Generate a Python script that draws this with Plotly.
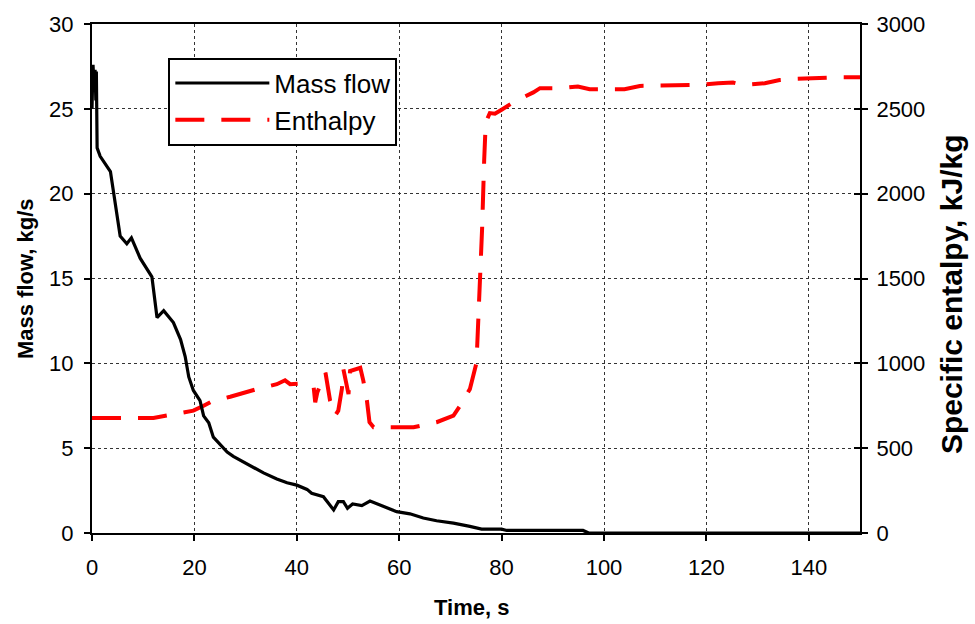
import plotly.graph_objects as go

# ---- data ----
time_mass = [0, 0.2, 0.45, 0.6, 0.75, 0.85, 1.0, 1.6, 3.6, 5.5, 6.8, 7.7, 9.4, 11.7, 12.7,
             14.0, 15.9, 17.3, 18.2, 18.9, 19.8, 21.1, 21.8, 22.8, 23.7, 26.4, 27.6,
             29.6, 31.5, 33.5, 36.1, 38.1, 40.0, 42.0, 42.9, 45.2, 47.2, 48.1, 49.1,
             49.9, 50.9, 52.7, 54.3, 56.3, 59.5, 62.1, 64.7, 67.3, 70.6, 73.8, 76.1,
             80.0, 81.0, 95.9, 97.0, 150]
mass_flow = [25.0, 27.6, 26.0, 27.3, 25.5, 27.2, 22.7, 22.2, 21.3, 17.5, 17.05, 17.4, 16.2,
             15.1, 12.7, 13.1, 12.4, 11.4, 10.4, 9.2, 8.4, 7.8, 6.9, 6.5, 5.65, 4.77, 4.52,
             4.19, 3.86, 3.54, 3.18, 2.96, 2.82, 2.57, 2.34, 2.14, 1.36, 1.85, 1.85, 1.46,
             1.71, 1.61, 1.88, 1.65, 1.26, 1.13, 0.88, 0.72, 0.58, 0.39, 0.23, 0.23, 0.15,
             0.15, 0.0, 0.0]

time_enth = [0, 12, 14.6, 17.9, 19.8, 21.8, 23.4, 27.0, 29.6, 32.2, 36.1, 37.7, 38.7, 41.3,
             43.3, 43.6, 44.0, 45.6, 46.5, 47.5, 48.1, 48.8, 49.1, 50.1, 50.4, 52.0, 52.4,
             53.0, 53.7, 54.2, 55.0, 58.2, 62.8, 67.3, 70.6, 71.9, 73.8, 75.1, 75.5, 75.9,
             76.2, 76.6, 76.9, 77.7, 78.7, 80.0, 82.6, 86.2, 87.5, 91.7, 94.9, 97.2, 104,
             107, 118.7, 122.3, 125.2, 127.1, 131.4, 134.3, 136.9, 146.0, 150]
enthalpy = [678, 678, 692, 711, 721, 750, 776, 803, 828, 848, 877, 900, 877, 881,
            857, 770, 828, 945, 780, 692, 721, 848, 965, 819, 955, 974, 974,
            897, 780, 653, 623, 623, 623, 653, 692, 750, 848, 1003, 1250, 1550,
            1800, 2200, 2420, 2475, 2471, 2495, 2544, 2597, 2622, 2622, 2632, 2616, 2616,
            2635, 2641, 2651, 2655, 2641, 2651, 2670, 2676, 2686, 2686]

x_ticks = [0, 20, 40, 60, 80, 100, 120, 140]
mass_ticks = [0, 5, 10, 15, 20, 25, 30]
enth_ticks = [0, 500, 1000, 1500, 2000, 2500, 3000]

FONT = "Liberation Sans, Arial, sans-serif"

fig = go.Figure()
fig.add_trace(go.Scatter(
    x=time_enth, y=enthalpy, name="Enthalpy", mode="lines", yaxis="y",
    line=dict(color="#ff0000", width=4, dash="29px,17px"),
    legendrank=2, legendgroup="b"))
fig.add_trace(go.Scatter(
    x=time_mass, y=mass_flow, name="Mass flow", mode="lines", yaxis="y2",
    line=dict(color="#000000", width=3.2),
    legendrank=1, legendgroup="a"))

tick_common = dict(ticklen=6, tickwidth=2, tickcolor="black",
                   tickfont=dict(family=FONT, size=22, color="black"),
                   zeroline=False)

fig.update_layout(
    width=975, height=624,
    margin=dict(l=92, r=115, t=20, b=91),
    paper_bgcolor="white", plot_bgcolor="white",
    font=dict(family=FONT, color="black"),
    showlegend=True,
    legend=dict(x=0.0994, y=0.934, xanchor="left", yanchor="top",
                bgcolor="white", bordercolor="black", borderwidth=2,
                font=dict(family=FONT, size=26, color="black"),
                itemwidth=94, tracegroupgap=0),
    xaxis=dict(range=[0, 150], tickvals=x_ticks, mirror=True,
               showline=True, linecolor="black", linewidth=2, ticks="outside",
               ticklabelstandoff=8,
               showgrid=True, gridcolor="#333", griddash="dot", gridwidth=1,
               **tick_common),
    yaxis=dict(range=[0, 3000], tickvals=enth_ticks, side="right",
               showline=True, linecolor="black", linewidth=2, ticks="outside",
               ticklabelstandoff=4,
               showgrid=True, gridcolor="#333", griddash="dot", gridwidth=1,
               **tick_common),
    yaxis2=dict(range=[0, 30], tickvals=mass_ticks, side="left",
                showline=True, linecolor="black", linewidth=2, ticks="outside",
                ticklabelstandoff=6,
                overlaying="y", showgrid=False, **tick_common),
    yaxis3=dict(range=[0, 3000], tickvals=enth_ticks, side="right",
                overlaying="y", showgrid=False, showline=False, ticks="inside",
                showticklabels=False, **tick_common),
    annotations=[
        dict(text="<b>Time, s</b>", xref="paper", yref="paper", x=0.4947, y=-0.1456,
             xanchor="center", yanchor="middle",
             showarrow=False, font=dict(family=FONT, size=22)),
        dict(text="<b>Mass flow, kg/s</b>", xref="paper", yref="paper", x=-0.0866, y=0.5,
             xanchor="center", yanchor="middle",
             textangle=-90, showarrow=False, font=dict(family=FONT, size=22)),
        dict(text="<b>Specific entalpy, kJ/kg</b>", xref="paper", yref="paper", x=1.1189,
             y=0.47, xanchor="center", yanchor="middle",
             textangle=-90, showarrow=False, font=dict(family=FONT, size=30)),
    ],
)
# yaxis3 exists only to draw the inner half of the right-hand crossing ticks
fig.add_trace(go.Scatter(x=[None], y=[None], yaxis="y3", showlegend=False,
                         hoverinfo="skip"))

fig.write_html("out.html")
